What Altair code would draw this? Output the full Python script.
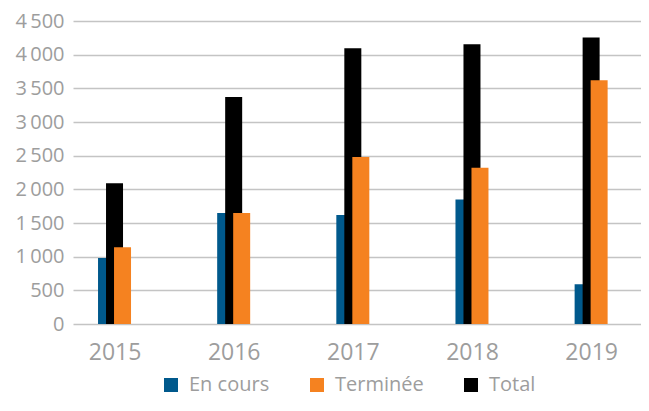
import altair as alt
import pandas as pd

years = [2015, 2016, 2017, 2018, 2019]
series = ["En cours", "Terminée", "Total"]
en_cours = [980, 1650, 1620, 1850, 590]
terminee = [1140, 1650, 2480, 2320, 3620]
total = [2090, 3370, 4095, 4155, 4255]
colors = ["#00598c", "#f58220", "#000000"]
y_ticks = [0, 500, 1000, 1500, 2000, 2500, 3000, 3500, 4000, 4500]

rows = []
for name, vals in zip(series, [en_cours, terminee, total]):
    for yr, v in zip(years, vals):
        rows.append({"year": yr, "series": name, "value": v})
df = pd.DataFrame(rows)

FONT = "Open Sans"
GREY = "#9d9d9d"

base = alt.Chart(df).encode(
    x=alt.X(
        "year:Q",
        scale=alt.Scale(domain=[2014.6515, 2019.4186], nice=False, zero=False, padding=0),
        axis=alt.Axis(
            values=years, format="d", title=None, grid=False, ticks=False,
            domain=False, labelFontSize=23, labelColor=GREY, labelFont=FONT,
            labelPadding=17,
        ),
    ),
    y=alt.Y(
        "value:Q",
        scale=alt.Scale(domain=[0, 4500], nice=False, padding=0),
        axis=alt.Axis(
            values=y_ticks, title=None, ticks=False, domain=False,
            gridColor="#c4c4c4", gridWidth=1.6,
            labelFontSize=20, labelColor=GREY, labelFont=FONT, labelPadding=9,
            labelExpr="datum.value >= 1000 ? floor(datum.value/1000) + '\u2009' + substring(toString(datum.value), length(toString(datum.value))-3) : toString(datum.value)",
        ),
    ),
    color=alt.Color(
        "series:N",
        scale=alt.Scale(domain=series, range=colors),
        legend=alt.Legend(
            title=None, orient="none", direction="horizontal",
            legendX=88, legendY=354, symbolType="square", symbolSize=196,
            symbolStrokeWidth=0, labelFontSize=20, labelColor=GREY,
            labelFont=FONT, labelOffset=8, columnPadding=37, padding=0,
        ),
    ),
)

blue = base.transform_filter(alt.datum.series == "En cours").mark_bar(width=17, xOffset=-8)
black = base.transform_filter(alt.datum.series == "Total").mark_bar(width=17, xOffset=0)
orange = base.transform_filter(alt.datum.series == "Terminée").mark_bar(width=17, xOffset=8)

chart = alt.layer(blue, black, orange).properties(
    width=568, height=303,
    autosize=alt.AutoSizeParams(type="none"),
    padding={"left": 65, "top": 13, "right": 0, "bottom": 74},
).configure_view(stroke=None)

chart.save("out.html", embed_options={"renderer": "svg", "actions": False})
